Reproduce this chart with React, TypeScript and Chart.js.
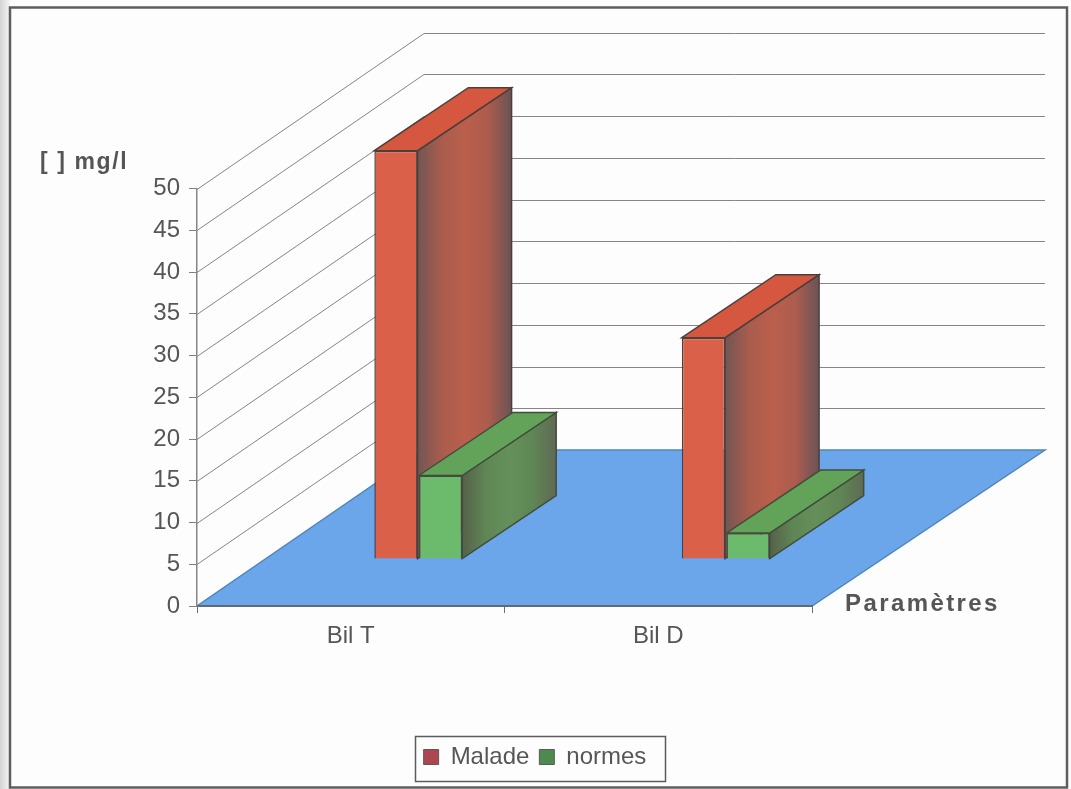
import React, { useEffect, useRef } from "react";
import { Chart, registerables } from "chart.js";

Chart.register(...registerables);

const categories = ["Bil T", "Bil D"];
const maladeValues = [48.9, 26.5];
const normesValues = [10, 3.1];
const seriesNames = ["Malade", "normes"];

const FONT = '"Liberation Sans", Arial, sans-serif';
const TEXT = "#565656";
const GRID = "#858585";

// Oblique projection used for the walls, the floor and the bar bodies.
const WALL_DX = 227;
const FLOOR_DX = 233;
const DEPTH_DY = -156;
const BAR_SHIFT = { x: 67.5, y: -47 };
const BAR_DEPTH = { x: 94, y: -63 };

const barStyles = [
  {
    front: "#da604a",
    top: "#d5573f",
    side: ["#725654", "#a85c4e", "#bb5f4c", "#ad5c4e", "#6a5356"],
    edge: "#4c403b",
    swatch: "#ad4650",
  },
  {
    front: "#6cba6c",
    top: "#62a359",
    side: ["#56604a", "#5f8655", "#64905a", "#5f8655", "#5f6a54"],
    edge: "#424d3b",
    swatch: "#4e8a50",
  },
];

function polygon(ctx: CanvasRenderingContext2D, pts: number[][], fill: any, stroke: string) {
  ctx.beginPath();
  pts.forEach(([x, y], i) => (i ? ctx.lineTo(x, y) : ctx.moveTo(x, y)));
  ctx.closePath();
  ctx.fillStyle = fill;
  ctx.fill();
  ctx.strokeStyle = stroke;
  ctx.lineWidth = 1.5;
  ctx.stroke();
}

const scene3d = {
  id: "scene3d",
  afterLayout(chart: any) {
    // The legend sits in its own framed box under the plot.
    const lg = chart.legend;
    if (lg) {
      lg.left = 410;
      lg.right = 660;
      lg.top = 735;
      lg.bottom = 781;
      lg.width = 250;
      lg.height = 46;
    }
  },
  beforeDraw(chart: any) {
    const { ctx, scales } = chart;
    const { x: xs, y: ys } = scales;
    ctx.save();
    // Page and left edge shading
    ctx.fillStyle = "#fdfdfd";
    ctx.fillRect(0, 0, chart.width, chart.height);
    const shade = ctx.createLinearGradient(0, 0, 10, 0);
    shade.addColorStop(0, "#d4d4d4");
    shade.addColorStop(1, "#f4f4f4");
    ctx.fillStyle = shade;
    ctx.fillRect(0, 0, 10, chart.height);

    // Side wall and back wall rules
    const y0 = ys.getPixelForValue(0);
    ctx.strokeStyle = GRID;
    ctx.lineWidth = 1;
    for (const t of ys.ticks) {
      const py = Math.round(ys.getPixelForValue(t.value)) + 0.5;
      if (t.value === 0) continue;
      ctx.beginPath();
      ctx.moveTo(xs.left, py);
      ctx.lineTo(xs.left + WALL_DX, py + DEPTH_DY);
      ctx.lineTo(xs.right + FLOOR_DX, py + DEPTH_DY);
      ctx.stroke();
    }

    // Floor
    polygon(
      ctx,
      [
        [xs.left, y0],
        [xs.right, y0],
        [xs.right + FLOOR_DX, y0 + DEPTH_DY],
        [xs.left + WALL_DX, y0 + DEPTH_DY],
      ],
      "#6ba6ea",
      "#4f86bd"
    );
    ctx.restore();
  },
  beforeDatasetsDraw(chart: any) {
    const { ctx } = chart;
    const n = chart.data.labels.length;
    // Side and top faces, rear series first so the nearer one overlaps it.
    for (let j = 0; j < n; j++) {
      chart.data.datasets.forEach((_: any, i: number) => {
        const bar = chart.getDatasetMeta(i).data[j];
        const style = barStyles[i];
        const l = bar.x - bar.width / 2 + BAR_SHIFT.x;
        const r = bar.x + bar.width / 2 + BAR_SHIFT.x;
        const t = bar.y + BAR_SHIFT.y;
        const b = bar.base + BAR_SHIFT.y;
        const g = ctx.createLinearGradient(r, 0, r + BAR_DEPTH.x, 0);
        style.side.forEach((c: string, k: number) => g.addColorStop(k / (style.side.length - 1), c));
        polygon(
          ctx,
          [
            [r, t],
            [r + BAR_DEPTH.x, t + BAR_DEPTH.y],
            [r + BAR_DEPTH.x, b + BAR_DEPTH.y],
            [r, b],
          ],
          g,
          style.edge
        );
        polygon(
          ctx,
          [
            [l, t],
            [l + BAR_DEPTH.x, t + BAR_DEPTH.y],
            [r + BAR_DEPTH.x, t + BAR_DEPTH.y],
            [r, t],
          ],
          style.top,
          style.edge
        );
      });
    }
    // Front faces are the library's own bars, pushed into the middle of the floor.
    ctx.save();
    ctx.translate(BAR_SHIFT.x, BAR_SHIFT.y);
  },
  afterDatasetsDraw(chart: any) {
    chart.ctx.restore();
  },
  afterDraw(chart: any) {
    const { ctx } = chart;
    ctx.save();
    // Axis captions
    ctx.fillStyle = TEXT;
    ctx.textBaseline = "middle";
    ctx.textAlign = "left";
    ctx.font = `bold 23px ${FONT}`;
    ctx.letterSpacing = "1.6px";
    ctx.fillText("[ ] mg/l", 40, 163);
    ctx.font = `bold 24px ${FONT}`;
    ctx.letterSpacing = "2.4px";
    ctx.fillText("Paramètres", 845, 604);
    ctx.letterSpacing = "0px";

    // Legend box
    ctx.strokeStyle = "#5c5c5c";
    ctx.lineWidth = 1.5;
    ctx.strokeRect(415.5, 736.5, 250, 45);

    // Outer frame
    ctx.strokeStyle = "#5e5e5e";
    ctx.lineWidth = 2.5;
    ctx.strokeRect(10, 7.5, 1057, 780);
    ctx.restore();
  },
};

export default function App() {
  const ref = useRef<HTMLCanvasElement | null>(null);

  useEffect(() => {
    document.body.style.margin = "0";
    const chart = new Chart(ref.current as HTMLCanvasElement, {
      type: "bar",
      data: {
        labels: categories,
        datasets: [
          {
            label: seriesNames[0],
            data: maladeValues,
            backgroundColor: barStyles[0].front,
            borderColor: barStyles[0].edge,
            borderWidth: 1.5,
            clip: false,
          },
          {
            label: seriesNames[1],
            data: normesValues,
            backgroundColor: barStyles[1].front,
            borderColor: barStyles[1].edge,
            borderWidth: 1.5,
            clip: false,
          },
        ],
      } as any,
      options: {
        animation: false,
        responsive: false,
        devicePixelRatio: 1,
        datasets: { bar: { categoryPercentage: 0.29, barPercentage: 0.97 } },
        layout: { padding: { left: 0, right: 259, top: 188.5, bottom: 79 } },
        plugins: {
          title: { display: false },
          tooltip: { enabled: false },
          legend: {
            display: true,
            position: "bottom",
            labels: {
              color: TEXT,
              font: { family: FONT, size: 24 },
              boxWidth: 15,
              boxHeight: 15,
              padding: 10,
              generateLabels: (chart: any) =>
                chart.data.datasets.map((d: any, i: number) => ({
                  text: d.label,
                  fillStyle: barStyles[i].swatch,
                  strokeStyle: "#5a5a5a",
                  lineWidth: 1,
                  datasetIndex: i,
                  fontColor: TEXT,
                })),
            },
          },
        },
        scales: {
          x: {
            afterFit: (s: any) => {
              s.height = 60;
            },
            grid: { drawOnChartArea: false, color: "#6d6d6d", tickLength: 7 },
            border: { color: "#5f6a78", width: 2 },
            ticks: { color: TEXT, font: { family: FONT, size: 24 }, padding: 9, maxRotation: 0 },
          },
          y: {
            min: 0,
            max: 50,
            afterFit: (s: any) => {
              s.width = 197;
            },
            grid: { drawOnChartArea: false, color: "#808080", tickLength: 8 },
            border: { color: "#858585", width: 1.5 },
            ticks: { stepSize: 5, color: TEXT, font: { family: FONT, size: 24 }, padding: 9 },
          },
        },
      } as any,
      plugins: [scene3d as any],
    });
    return () => chart.destroy();
  }, []);

  return <canvas ref={ref} width={1071} height={789} style={{ display: "block" }} />;
}
